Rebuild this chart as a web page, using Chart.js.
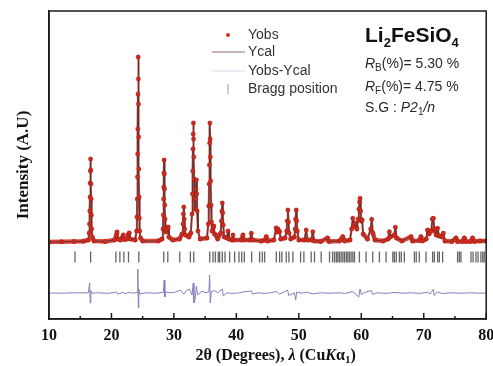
<!DOCTYPE html>
<html>
<head>
<meta charset="utf-8">
<script src="https://cdn.jsdelivr.net/npm/chart.js@4.4.1/dist/chart.umd.min.js"></script>
<style>
  html, body { margin: 0; padding: 0; background: #fff; }
</style>
</head>
<body>
<canvas id="grafico" width="493" height="366"></canvas>
<script>
const yObsProfile = [
  [10, 770], [12, 772], [14, 775], [15.5, 778], [16.3, 790], [16.42, 860], [16.48, 950], [16.53, 1080],
  [16.57, 1220], [16.6, 1360], [16.63, 1480], [16.66, 1600], [16.69, 1490], [16.72, 1350], [16.75, 1200],
  [16.79, 1040], [16.84, 900], [16.92, 820], [17.2, 780], [19, 775], [20.5, 790], [20.8, 840],
  [20.9, 870], [21.05, 800], [21.4, 790], [21.8, 820], [21.9, 840], [22.05, 795], [22.5, 800], [22.75, 850],
  [22.85, 860], [23, 800], [23.8, 790], [24.02, 880], [24.08, 1020], [24.12, 1200], [24.16, 1420],
  [24.19, 1650], [24.22, 1900], [24.25, 2250], [24.28, 2620], [24.31, 2400], [24.33, 2150], [24.36, 1820],
  [24.39, 1500], [24.43, 1220], [24.47, 1010], [24.53, 880], [24.65, 810], [25, 780], [27.5, 780],
  [28.1, 800], [28.25, 900], [28.31, 1040], [28.35, 1200], [28.38, 1320], [28.41, 1460], [28.43, 1590],
  [28.46, 1450], [28.5, 1300], [28.54, 1140], [28.58, 1000], [28.64, 900], [28.75, 870], [28.95, 900],
  [29.07, 920], [29.2, 820], [29.8, 790], [30.9, 800], [31.3, 850], [31.45, 950], [31.52, 1050], [31.58, 1120],
  [31.64, 1000], [31.72, 900], [31.85, 840], [32.4, 820], [32.7, 860], [32.9, 1050], [32.97, 1250],
  [33.02, 1480], [33.06, 1700], [33.09, 1850], [33.12, 1960], [33.15, 1800], [33.19, 1620], [33.24, 1400],
  [33.3, 1200], [33.38, 1100], [33.47, 1200], [33.53, 1300], [33.6, 1390], [33.66, 1250], [33.72, 1080],
  [33.85, 880], [34.2, 800], [35.3, 810], [35.5, 950], [35.58, 1130], [35.64, 1350], [35.68, 1540],
  [35.72, 1760], [35.76, 1960], [35.8, 1800], [35.84, 1620], [35.89, 1380], [35.95, 1140], [36.02, 970],
  [36.12, 880], [36.3, 920], [36.37, 930], [36.5, 850], [36.7, 840], [37, 800], [37.5, 860], [37.6, 980],
  [37.68, 1080], [37.75, 1160], [37.82, 1060], [37.9, 940], [38.05, 820], [38.5, 810], [38.66, 880],
  [38.8, 800], [39.3, 790], [39.46, 840], [39.6, 790], [40.8, 790], [41.06, 840], [41.25, 790], [42.2, 790],
  [42.39, 857], [42.6, 790], [44, 780], [44.6, 790], [44.79, 823], [45, 780], [46, 790], [46.39, 910],
  [46.55, 870], [46.65, 900], [46.92, 873], [47.1, 800], [47.8, 810], [48.05, 880], [48.15, 980],
  [48.25, 1090], [48.34, 970], [48.45, 860], [48.7, 800], [49.3, 820], [49.4, 900], [49.49, 1000],
  [49.58, 1090], [49.66, 980], [49.76, 880], [50, 790], [50.9, 790], [51.18, 890], [51.4, 790], [52, 790],
  [52.24, 873], [52.45, 780], [53.5, 775], [54.6, 810], [54.8, 775], [56.5, 780], [57.04, 823], [57.3, 780],
  [58.2, 790], [58.45, 900], [58.64, 1007], [58.8, 930], [59, 960], [59.3, 900], [59.5, 1000], [59.62, 1100],
  [59.72, 1170], [59.81, 1207], [59.9, 1080], [60.0, 980], [60.13, 990], [60.3, 850], [61, 800], [61.5, 900],
  [61.67, 997], [61.85, 860], [62.2, 790], [63.5, 780], [64.3, 800], [64.5, 873], [64.65, 820], [65.3, 840],
  [65.46, 917], [65.65, 810], [66.5, 780], [67.96, 823], [68.2, 780], [69.3, 785], [69.56, 823], [69.8, 780],
  [70.4, 800], [70.62, 890], [70.85, 850], [71.2, 880], [71.4, 1000], [71.53, 1007], [71.7, 900], [72, 840],
  [72.22, 907], [72.45, 830], [72.9, 820], [73.13, 857], [73.4, 780], [74.5, 775], [75.16, 810], [75.4, 775],
  [76.2, 775], [76.49, 810], [76.75, 775], [77.5, 775], [77.82, 810], [78.1, 775], [79, 780], [80, 780]
];
// calculated profile sits on the observed one
const yCalProfile = yObsProfile.map(p => [p[0], p[1]]);

// difference curve Yobs - Ycal
const diffProfile = [
  [10, 260], [12, 258], [14, 262], [16.3, 262], [16.5, 360], [16.6, 160], [16.7, 285], [16.85, 258],
  [18, 262], [19.5, 256], [20.8, 270], [21, 248], [21.9, 268], [22.1, 252], [22.8, 266], [23.5, 258],
  [24.1, 265], [24.22, 500], [24.3, 110], [24.38, 300], [24.5, 250], [25.5, 262], [27, 258], [28.3, 265],
  [28.45, 390], [28.55, 220], [28.7, 270], [29.5, 262], [30.3, 270], [31, 290], [31.6, 250], [32, 285],
  [32.5, 300], [32.9, 240], [33.1, 360], [33.2, 160], [33.4, 200], [33.6, 330], [33.8, 240], [34.5, 280],
  [35, 262], [35.6, 270], [35.72, 440], [35.82, 160], [36, 275], [36.5, 285], [37, 262], [37.75, 300],
  [37.9, 230], [38.5, 262], [39.5, 256], [40.5, 262], [41, 270], [42.4, 280], [42.6, 250], [43.5, 262],
  [44.5, 256], [45.5, 262], [46.4, 275], [46.9, 250], [47.5, 266], [48.2, 290], [48.4, 235], [49.3, 262],
  [49.5, 190], [49.65, 270], [50.5, 258], [51.2, 268], [52.2, 252], [53.5, 262], [55, 258], [56.5, 262],
  [57.5, 256], [58.6, 275], [59.6, 220], [59.8, 300], [60, 245], [60.5, 265], [61.6, 285], [61.8, 245],
  [62.5, 262], [64, 256], [65.4, 266], [66.5, 258], [68, 262], [69.5, 256], [70.6, 268], [71, 250],
  [71.5, 295], [71.7, 235], [72.2, 272], [73, 255], [74.5, 262], [76, 258], [77.5, 262], [79, 258], [80, 260]
];

// Bragg reflection positions (2theta)
const braggPositions = [
  14.16, 16.66, 20.71, 21.35, 21.99, 22.73, 24.38, 28.38, 29.02, 30.94, 32.64, 33.17, 35.73, 36.26,
  36.64, 37.1, 37.33, 37.75, 38.18, 38.92, 39.72, 40.42, 40.85, 41.27, 42.44, 43.72, 44.15, 44.52,
  46.39, 46.92, 47.29, 47.99, 48.41, 49.05, 50.28, 50.81, 51.98, 52.51, 53.58, 54.91, 55.4, 55.71,
  56.0, 56.24, 56.5, 56.77, 57.05, 57.31, 57.6, 57.84, 58.1, 58.37, 58.65, 58.91, 59.7, 60.77, 61.83,
  62.9, 63.97, 65.05, 65.3, 65.6, 66.1, 66.4, 66.9, 68.5, 68.8, 69.29, 70.36, 71.42, 71.7, 72.22, 72.5,
  73.02, 75.42, 75.7, 75.96, 77.56, 77.9, 78.36, 78.7, 79.16, 79.45, 79.69
];
const braggLevel = 620;

const xTicks = [10, 20, 30, 40, 50, 60, 70, 80];

const SERIF = "'Liberation Serif', 'Times New Roman', serif";
const SANS = "'Liberation Sans', Arial, sans-serif";

function desenharTexto(ctx, x, y, partes) {
  // partes: [texto, fonte, deslocamento vertical]
  let cx = x;
  partes.forEach(([t, f, dy]) => {
    ctx.font = f;
    ctx.fillText(t, cx, y + (dy || 0));
    cx += ctx.measureText(t).width;
  });
  return cx - x;
}
function larguraTexto(ctx, partes) {
  let w = 0;
  partes.forEach(([t, f]) => { ctx.font = f; w += ctx.measureText(t).width; });
  return w;
}

const decoracao = {
  id: 'decoracao',
  afterDraw(chart) {
    const { ctx, chartArea: a, scales: { x } } = chart;
    ctx.save();

    // moldura
    ctx.strokeStyle = '#1a1a1a';
    ctx.lineWidth = 1.5;
    ctx.strokeRect(a.left, a.top, a.right - a.left, a.bottom - a.top);

    // ticks para dentro
    for (let v = 10; v <= 80; v += 5) {
      const px = x.getPixelForValue(v);
      const len = v % 10 === 0 ? 6 : 3;
      ctx.beginPath();
      ctx.moveTo(px, a.bottom);
      ctx.lineTo(px, a.bottom - len);
      ctx.stroke();
    }

    // titulo do eixo x
    const bf = 'bold 16px ' + SERIF, bi = 'italic bold 16px ' + SERIF, bs = 'bold 11px ' + SERIF;
    const titulo = [['2θ (Degrees), ', bf], ['λ', bi], [' (Cu', bf], ['K', bi], ['α', bf], ['1', bs, 4], [')', bf]];
    ctx.fillStyle = '#111';
    ctx.textBaseline = 'middle';
    const wt = larguraTexto(ctx, titulo);
    desenharTexto(ctx, (a.left + a.right) / 2 - wt / 2 + 8, 356, titulo);

    // legenda
    const lf = '14px ' + SANS;
    ctx.fillStyle = '#333';
    ctx.font = lf;
    ctx.fillText('Yobs', 248, 35);
    ctx.fillText('Ycal', 248, 52);
    ctx.fillText('Yobs-Ycal', 248, 71);
    ctx.fillText('Bragg position', 248, 89);
    ctx.fillStyle = '#d42b1f';
    ctx.beginPath(); ctx.arc(228, 35, 2, 0, Math.PI * 2); ctx.fill();
    ctx.lineWidth = 1;
    ctx.strokeStyle = '#8a6a6a';
    ctx.beginPath(); ctx.moveTo(212, 52); ctx.lineTo(245, 52); ctx.stroke();
    ctx.strokeStyle = '#dcd6e6';
    ctx.beginPath(); ctx.moveTo(212, 71); ctx.lineTo(245, 71); ctx.stroke();
    ctx.strokeStyle = '#999';
    ctx.beginPath(); ctx.moveTo(228, 84); ctx.lineTo(228, 94); ctx.stroke();

    // anotacoes
    ctx.fillStyle = '#111';
    desenharTexto(ctx, 365, 36, [['Li', 'bold 21px ' + SANS], ['2', 'bold 13px ' + SANS, 7],
      ['FeSiO', 'bold 21px ' + SANS], ['4', 'bold 13px ' + SANS, 7]]);
    ctx.fillStyle = '#2a2a2a';
    const nf = '14px ' + SANS, itf = 'italic 14px ' + SANS, sf = '10px ' + SANS;
    desenharTexto(ctx, 365, 64, [['R', itf], ['B', sf, 4], ['(%)= 5.30 %', nf]]);
    desenharTexto(ctx, 365, 87, [['R', itf], ['F', sf, 4], ['(%)= 4.75 %', nf]]);
    desenharTexto(ctx, 365, 108, [['S.G : ', nf], ['P2', itf], ['1', sf, 4], ['/n', itf]]);

    ctx.restore();
  }
};

const toPts = arr => arr.map(p => ({ x: p[0], y: p[1] }));

// faixa vermelha: grossa na linha de base, fina nos picos
const larguraFaixa = c => {
  const dx = Math.abs(c.p1.x - c.p0.x), dy = Math.abs(c.p1.y - c.p0.y);
  return dy > 2.5 * dx + 2 ? 2.2 : 4.5;
};

new Chart(document.getElementById('grafico'), {
  type: 'scatter',
  data: {
    datasets: [
      { label: 'Yobs', data: toPts(yObsProfile), showLine: false, pointRadius: 2.2,
        pointBackgroundColor: '#cf2a1e', pointBorderColor: 'rgba(120,20,15,0.6)', pointBorderWidth: 0.5 },
      { label: 'Ycal', data: toPts(yCalProfile), showLine: true, borderColor: '#4a3a3a', borderWidth: 1,
        pointRadius: 0 },
      { label: 'Yobs band', data: toPts(yObsProfile), showLine: true, borderColor: 'rgba(214,40,28,0.85)',
        borderWidth: 4.5, borderJoinStyle: 'round', borderCapStyle: 'round', pointRadius: 0,
        segment: { borderWidth: larguraFaixa } },
      { label: 'Yobs-Ycal', data: toPts(diffProfile), showLine: true, borderColor: '#8a7cc0', borderWidth: 1,
        pointRadius: 0 },
      { label: 'Bragg position', data: braggPositions.map(v => ({ x: v, y: braggLevel })), showLine: false,
        pointStyle: 'line', pointRotation: 90, pointRadius: 5.5, borderColor: 'rgba(35,35,35,0.7)',
        borderWidth: 1.3 }
    ]
  },
  options: {
    responsive: false,
    animation: false,
    devicePixelRatio: 1,
    layout: { padding: { top: 11, right: 6, left: 0, bottom: 0 } },
    plugins: { legend: { display: false }, tooltip: { enabled: false } },
    scales: {
      x: {
        type: 'linear', min: 10, max: 80,
        afterBuildTicks: s => { s.ticks = xTicks.map(v => ({ value: v })); },
        afterFit: s => { s.height = 47; s.paddingLeft = 0; s.paddingRight = 0; },
        grid: { display: false, drawTicks: false },
        border: { display: true, color: '#1a1a1a', width: 1.5 },
        ticks: { color: '#111', padding: 7, maxRotation: 0, font: { family: SERIF, size: 16, weight: 'bold' } }
      },
      y: {
        min: 0, max: 3080,
        afterFit: s => { s.width = 49; },
        grid: { display: false, drawTicks: false },
        border: { display: true, color: '#1a1a1a', width: 1.5 },
        ticks: { display: false },
        title: { display: true, text: 'Intensity (A.U)', color: '#111', padding: { top: 13, bottom: 0 },
          font: { family: SERIF, size: 17, weight: 'bold' } }
      }
    }
  },
  plugins: [decoracao]
});
</script>
</body>
</html>
